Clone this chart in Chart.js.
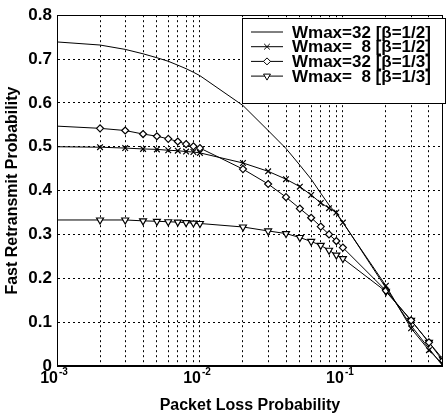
<!DOCTYPE html>
<html lang="en">
<head>
<meta charset="UTF-8">
<title>Fast Retransmit Probability</title>
<style>
  body { margin: 0; background: #fff; }
  #wrap { width: 448px; height: 415px; }
</style>
</head>
<body>
<div id="wrap"><canvas id="myChart"></canvas></div>
<script src="https://cdn.jsdelivr.net/npm/chart.js@4.4.0/dist/chart.umd.min.js"></script>
<script>
// packet loss probability (x, log scale)
const lossProb = [0.001, 0.002, 0.003, 0.004, 0.005, 0.006, 0.007, 0.008, 0.009, 0.01,
                  0.02, 0.03, 0.04, 0.05, 0.06, 0.07, 0.08, 0.09, 0.1,
                  0.2, 0.3, 0.4, 0.5];

// fast retransmit probability, one list per curve
const w32b2 = [0.739, 0.732, 0.722, 0.712, 0.703, 0.695, 0.686, 0.678, 0.670, 0.662,
               0.594, 0.537, 0.496, 0.458, 0.426, 0.394, 0.367, 0.347, 0.328,
               0.178, 0.092, 0.040, 0.000];
const w8b2 = [0.500, 0.499, 0.497, 0.495, 0.494, 0.492, 0.491, 0.489, 0.488, 0.486,
              0.463, 0.444, 0.426, 0.409, 0.390, 0.372, 0.360, 0.350, 0.327,
              0.183, 0.086, 0.036, 0.004];
const w32b3 = [0.547, 0.542, 0.537, 0.529, 0.524, 0.518, 0.512, 0.506, 0.501, 0.497,
               0.449, 0.415, 0.385, 0.359, 0.338, 0.318, 0.300, 0.285, 0.270,
               0.172, 0.104, 0.054, 0.012];
const w8b3 = [0.333, 0.333, 0.333, 0.331, 0.330, 0.329, 0.328, 0.327, 0.326, 0.325,
              0.317, 0.308, 0.302, 0.293, 0.284, 0.275, 0.264, 0.253, 0.245,
              0.170, 0.104, 0.054, 0.016];

const seriesNames = ['Wmax=32 [\u03B2=1/2]', 'Wmax=  8 [\u03B2=1/2]',
                     'Wmax=32 [\u03B2=1/3]', 'Wmax=  8 [\u03B2=1/3]'];

// vertical grid lines and the decade labels
const xGridValues = [0.001, 0.002, 0.003, 0.004, 0.005, 0.006, 0.007, 0.008, 0.009,
                     0.01, 0.02, 0.03, 0.04, 0.05, 0.06, 0.07, 0.08, 0.09,
                     0.1, 0.2, 0.3, 0.4, 0.5];
const xLabelValues = [0.001, 0.01, 0.1];
const xLabelExps = ['-3', '-2', '-1'];

const FONT = 'Liberation Sans, Arial, Helvetica, sans-serif';

function toPoints(ys) {
    return lossProb.map((x, i) => ({ x: x, y: ys[i] }));
}

// no marker at the first sample, like the original
function markerRadius(r) {
    return ctx => ctx.dataIndex === 0 ? 0 : r;
}

const styles = [
    { pointStyle: false, radius: 0, rotation: 0 },
    { pointStyle: 'crossRot', radius: 4, rotation: 0 },
    { pointStyle: 'rectRot', radius: 3.5, rotation: 0 },
    { pointStyle: 'triangle', radius: 4, rotation: 180 }
];

const datasets = [w32b2, w8b2, w32b3, w8b3].map((ys, i) => ({
    label: seriesNames[i],
    data: toPoints(ys),
    borderColor: '#000',
    borderWidth: 1,
    backgroundColor: '#fff',
    pointStyle: styles[i].pointStyle,
    pointRadius: markerRadius(styles[i].radius),
    pointRotation: styles[i].rotation,
    pointBorderColor: '#000',
    pointBackgroundColor: '#fff',
    pointBorderWidth: 1.2,
    tension: 0,
    fill: false
}));

// solid frame round the plot area
const frame = {
    id: 'frame',
    afterDatasetsDraw(chart) {
        const a = chart.chartArea, c = chart.ctx;
        c.save();
        c.strokeStyle = '#000';
        c.lineWidth = 1;
        c.setLineDash([]);
        c.strokeRect(Math.round(a.left) + 0.5, Math.round(a.top) + 0.5,
                     Math.round(a.width) - 1, Math.round(a.height) - 1);
        c.restore();
    }
};

// 10^n labels with a raised exponent
const decadeLabels = {
    id: 'decadeLabels',
    afterDraw(chart) {
        const sx = chart.scales.x, c = chart.ctx;
        c.save();
        c.fillStyle = '#000';
        c.textBaseline = 'alphabetic';
        xLabelValues.forEach((v, i) => {
            const px = sx.getPixelForValue(v);
            c.font = 'bold 16px ' + FONT;
            c.textAlign = 'right';
            c.fillText('10', px + 1, 383);
            c.font = 'bold 10px ' + FONT;
            c.textAlign = 'left';
            c.fillText(xLabelExps[i], px + 2, 375);
        });
        c.restore();
    }
};

// boxed legend inside the plot, top right
const boxLegend = {
    id: 'boxLegend',
    afterDraw(chart) {
        const c = chart.ctx;
        const bx = 242, by = 18, bw = 203, bh = 85;
        c.save();
        c.fillStyle = '#fff';
        c.fillRect(bx, by, bw, bh);
        c.strokeStyle = '#000';
        c.lineWidth = 1;
        c.setLineDash([]);
        c.strokeRect(bx + 0.5, by + 0.5, bw, bh);
        chart.data.datasets.forEach((ds, i) => {
            const y = 32 + i * 14.7;
            c.beginPath();
            c.moveTo(251, y);
            c.lineTo(283, y);
            c.strokeStyle = '#000';
            c.stroke();
            if (styles[i].pointStyle) {
                c.fillStyle = '#fff';
                c.strokeStyle = '#000';
                Chart.helpers.drawPoint(c, {
                    pointStyle: styles[i].pointStyle,
                    radius: styles[i].radius,
                    rotation: styles[i].rotation,
                    borderWidth: 1
                }, 267, y);
            }
            c.fillStyle = '#000';
            c.font = 'bold 17px ' + FONT;
            c.textAlign = 'left';
            c.textBaseline = 'middle';
            c.fillText(ds.label, 292, y + 1);
        });
        c.restore();
    }
};

new Chart(document.getElementById('myChart'), {
    type: 'line',
    data: { datasets: datasets },
    options: {
        responsive: true,
        maintainAspectRatio: false,
        animation: false,
        devicePixelRatio: 1,
        layout: { padding: { left: 0, right: 1, top: 13, bottom: 0 } },
        plugins: {
            legend: { display: false },
            tooltip: { enabled: false }
        },
        scales: {
            x: {
                type: 'logarithmic',
                min: 0.001,
                max: 0.5,
                afterBuildTicks: s => { s.ticks = xGridValues.map(v => ({ value: v })); },
                afterFit: s => { s.height = 49; },
                ticks: { display: false },
                grid: { color: '#000', lineWidth: 1, drawTicks: false },
                border: { color: '#000', dash: [2, 3] },
                title: {
                    display: true,
                    text: 'Packet Loss Probability',
                    color: '#000',
                    font: { family: FONT, size: 16, weight: 'bold' },
                    padding: { top: 0, bottom: 0 }
                }
            },
            y: {
                min: 0,
                max: 0.8,
                afterFit: s => { s.width = 57; },
                ticks: {
                    stepSize: 0.1,
                    color: '#000',
                    padding: 5,
                    font: { family: FONT, size: 17, weight: 'bold' }
                },
                grid: { color: '#000', lineWidth: 1, drawTicks: false },
                border: { color: '#000', dash: [2, 3] },
                title: {
                    display: true,
                    text: 'Fast Retransmit Probability',
                    color: '#000',
                    font: { family: FONT, size: 16, weight: 'bold' },
                    padding: { top: 3, bottom: 0 }
                }
            }
        }
    },
    plugins: [frame, decadeLabels, boxLegend]
});
</script>
</body>
</html>
